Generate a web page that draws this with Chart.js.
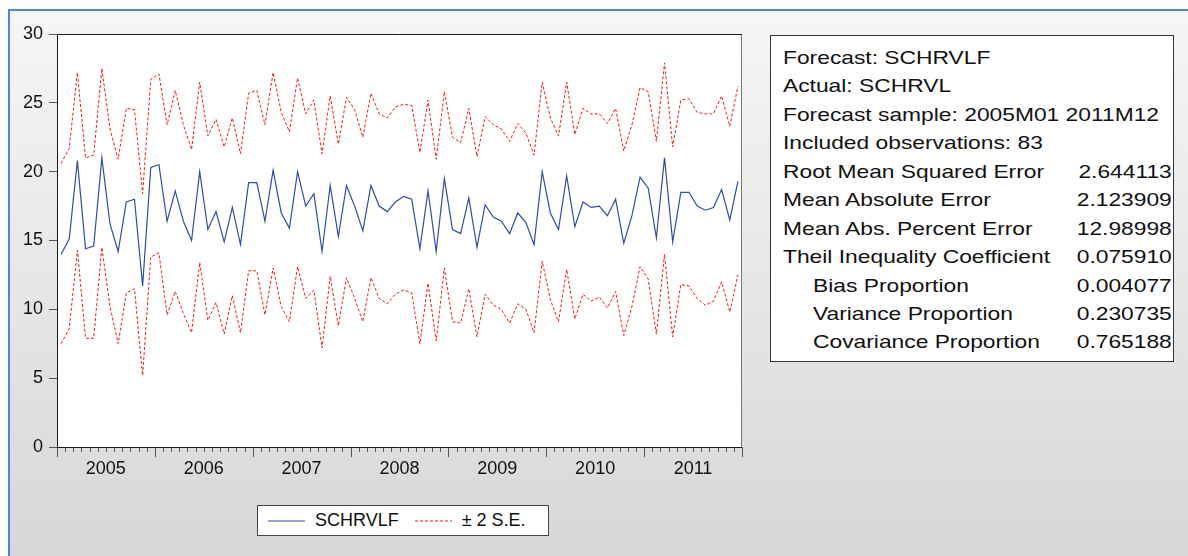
<!DOCTYPE html>
<html>
<head>
<meta charset="utf-8">
<script src="https://cdn.jsdelivr.net/npm/chart.js"></script>
<style>
  body { margin: 0; width: 1188px; height: 556px; overflow: hidden; background: #fff; font-family: "Liberation Sans", Arial, sans-serif; }
  #frame { position: absolute; left: 8px; top: 9px; right: 0; bottom: 0;
    border-left: 2px solid #4d87d4; border-top: 2px solid #4d87d4;
    background: linear-gradient(#f6f6f6, #d7d7d7); }
  #myChart { position: absolute; left: 0; top: 0; }
  #stats { position: absolute; left: 770px; top: 35px; width: 402px; height: 325px;
    border: 1px solid #333; background: #fff; overflow: hidden; }
  #statsInner { position: absolute; left: 12px; top: 8px; width: 324px;
    transform: scaleX(1.2); transform-origin: 0 0; font-size: 19px; color: #111; }
  #statsInner div { height: 28.45px; line-height: 28.45px; white-space: nowrap; display: flex; justify-content: space-between; }
  #statsInner .sub span:first-child { padding-left: 25px; }
  #legend { position: absolute; left: 257px; top: 505px; width: 280px; height: 29px;
    border: 1px solid #444; background: #fff; display: flex; align-items: center;
    font-size: 18px; color: #111; padding-left: 10px; box-sizing: content-box; }
  #legend svg { margin-right: 10px; }
  #legend span { margin-right: 16px; }
</style>
</head>
<body>
<div id="frame"></div>
<canvas id="myChart" width="1188" height="556"></canvas>
<div id="stats"><div id="statsInner"></div></div>
<div id="legend"></div>
<script>
    // data
    const years = [2005, 2006, 2007, 2008, 2009, 2010, 2011];
    const months = [];
    years.forEach(function(y) {
        for (let m = 1; m <= 12; m++) months.push(y + "M" + (m < 10 ? "0" + m : m));
    });

    const forecast = [
        14.0, 15.1, 20.8, 14.4, 14.6, 21.0, 16.2, 14.2, 17.8, 18.0, 11.7, 20.3,
        20.5, 16.4, 18.6, 16.4, 15.0, 20.0, 15.8, 17.1, 14.9, 17.4, 14.7, 19.2,
        19.2, 16.4, 20.1, 17.0, 15.9, 20.0, 17.5, 18.4, 14.2, 19.0, 15.3, 19.0,
        17.5, 15.7, 19.0, 17.5, 17.1, 17.8, 18.2, 18.0, 14.4, 18.6, 14.2, 19.5,
        15.8, 15.5, 18.1, 14.5, 17.6, 16.7, 16.4, 15.5, 17.0, 16.3, 14.7, 20.0,
        17.0, 15.8, 19.7, 16.0, 17.8, 17.4, 17.5, 16.8, 18.0, 14.8, 16.8, 19.6,
        18.8, 15.2, 21.0, 14.9, 18.5, 18.5, 17.5, 17.2, 17.4, 18.7, 16.5, 19.3
    ];
    const upperBand = [
        20.6, 21.7, 27.2, 21.0, 21.2, 27.5, 23.1, 20.9, 24.6, 24.5, 18.4, 26.7,
        27.1, 23.4, 25.9, 23.4, 21.6, 26.5, 22.6, 23.8, 21.8, 23.9, 21.3, 25.7,
        25.9, 23.4, 27.2, 24.3, 22.9, 26.8, 24.2, 25.2, 21.3, 25.5, 22.0, 25.4,
        24.5, 22.5, 25.7, 24.2, 23.9, 24.7, 24.9, 24.8, 21.4, 25.2, 20.9, 25.8,
        22.5, 22.1, 24.6, 21.1, 24.0, 23.4, 23.1, 22.2, 23.5, 22.8, 21.2, 26.5,
        23.9, 22.6, 26.5, 22.7, 24.6, 24.2, 24.2, 23.5, 24.6, 21.5, 23.4, 26.1,
        25.8, 22.2, 27.9, 21.8, 25.2, 25.3, 24.3, 24.2, 24.2, 25.5, 23.3, 26.2
    ];
    const lowerBand = [
        7.5, 8.6, 14.3, 7.9, 7.9, 14.5, 10.2, 7.5, 11.2, 11.5, 5.2, 13.8,
        14.1, 9.6, 11.3, 9.7, 8.3, 13.4, 9.2, 10.5, 8.2, 11.0, 8.3, 12.8,
        12.8, 9.6, 13.0, 10.2, 9.1, 13.1, 10.8, 11.4, 7.2, 12.4, 8.8, 12.3,
        10.8, 9.1, 12.3, 10.8, 10.4, 11.1, 11.4, 11.2, 7.5, 11.9, 7.7, 13.0,
        9.1, 9.0, 11.5, 8.0, 11.1, 10.3, 10.0, 9.0, 10.4, 10.0, 8.3, 13.5,
        10.7, 9.1, 12.9, 9.3, 11.1, 10.6, 10.9, 10.1, 11.3, 8.1, 10.2, 13.1,
        12.2, 8.2, 14.0, 8.0, 11.8, 11.7, 10.8, 10.3, 10.6, 12.0, 9.8, 12.5
    ];
    const yTicks = [0, 5, 10, 15, 20, 25, 30];

    const statHeader = ["Forecast: SCHRVLF", "Actual: SCHRVL",
        "Forecast sample: 2005M01 2011M12", "Included observations: 83"];
    const statLabels = ["Root Mean Squared Error", "Mean Absolute Error",
        "Mean Abs. Percent Error", "Theil Inequality Coefficient",
        "Bias Proportion", "Variance Proportion", "Covariance Proportion"];
    const statValues = ["2.644113", "2.123909", "12.98998", "0.075910",
        "0.004077", "0.230735", "0.765188"];

    const blue = '#2c4ea8';
    const red = '#f01c1c';

    // plot frame, white area and month ticks
    const frameTicks = {
        id: 'frameTicks',
        beforeDraw(chart) {
            const a = chart.chartArea;
            chart.ctx.save();
            chart.ctx.fillStyle = '#fff';
            chart.ctx.fillRect(a.left, a.top, a.right - a.left, a.bottom - a.top);
            chart.ctx.restore();
        },
        afterDraw(chart) {
            const ctx = chart.ctx, a = chart.chartArea, x = chart.scales.x;
            const n = months.length;
            ctx.save();
            ctx.lineWidth = 1;
            ctx.strokeStyle = '#555';
            for (let k = 0; k <= n; k++) {
                let px;
                if (k === 0) px = x.left;
                else if (k === n) px = x.right;
                else px = (x.getPixelForValue(k - 1) + x.getPixelForValue(k)) / 2;
                px = Math.round(px) + 0.5;
                const len = k % 12 === 0 ? 10 : 5;
                ctx.beginPath();
                ctx.moveTo(px, a.bottom);
                ctx.lineTo(px, a.bottom + len);
                ctx.stroke();
            }
            ctx.strokeStyle = '#777';
            ctx.beginPath();
            ctx.moveTo(Math.round(a.right) - 0.5, a.top);
            ctx.lineTo(Math.round(a.right) - 0.5, a.bottom);
            ctx.stroke();
            ctx.strokeStyle = '#1a1a1a';
            ctx.beginPath();
            ctx.moveTo(a.right, Math.round(a.top) + 0.5);
            ctx.lineTo(Math.round(a.left) + 0.5, Math.round(a.top) + 0.5);
            ctx.lineTo(Math.round(a.left) + 0.5, Math.round(a.bottom) + 0.5);
            ctx.lineTo(a.right, Math.round(a.bottom) + 0.5);
            ctx.stroke();
            ctx.restore();
        }
    };

    const data = {
        labels: months,
        datasets: [{
            label: 'SCHRVLF',
            data: forecast,
            borderColor: blue,
            borderWidth: 1.2,
            pointRadius: 0,
            tension: 0
        }, {
            label: '± 2 S.E.',
            data: upperBand,
            borderColor: red,
            borderWidth: 1,
            borderDash: [3, 2],
            pointRadius: 0,
            tension: 0
        }, {
            label: '± 2 S.E.',
            data: lowerBand,
            borderColor: red,
            borderWidth: 1,
            borderDash: [3, 2],
            pointRadius: 0,
            tension: 0
        }]
    };

    const config = {
        type: 'line',
        data,
        options: {
            responsive: false,
            animation: false,
            layout: { padding: { left: 0, top: 34, right: 446, bottom: 0 } },
            plugins: { legend: { display: false }, tooltip: { enabled: false } },
            scales: {
                x: {
                    offset: true,
                    afterFit: function(s) { s.height = 109; },
                    grid: { display: false, drawTicks: false },
                    border: { display: false },
                    ticks: {
                        autoSkip: false,
                        maxRotation: 0,
                        padding: 11,
                        labelOffset: 4,
                        color: '#111',
                        font: { family: 'Liberation Sans', size: 18 },
                        callback: function(val, idx) {
                            return idx % 12 === 5 ? String(years[Math.floor(idx / 12)]) : '';
                        }
                    }
                },
                y: {
                    min: yTicks[0],
                    max: yTicks[yTicks.length - 1],
                    afterFit: function(s) { s.width = 57; },
                    grid: { drawOnChartArea: false, drawTicks: true, tickLength: 8, color: '#555' },
                    border: { display: false },
                    ticks: {
                        stepSize: 5,
                        padding: 6,
                        color: '#111',
                        font: { family: 'Liberation Sans', size: 18 }
                    }
                }
            }
        },
        plugins: [frameTicks]
    };

    const myChart = new Chart(document.getElementById('myChart'), config);

    // statistics box
    const inner = document.getElementById('statsInner');
    statHeader.forEach(function(t) {
        const row = document.createElement('div');
        row.innerHTML = '<span>' + t + '</span>';
        inner.appendChild(row);
    });
    statLabels.forEach(function(t, i) {
        const row = document.createElement('div');
        if (i >= 4) row.className = 'sub';
        row.innerHTML = '<span>' + t + '</span><span>' + statValues[i] + '</span>';
        inner.appendChild(row);
    });

    // legend from datasets (one entry per label)
    const legend = document.getElementById('legend');
    const seen = {};
    myChart.data.datasets.forEach(function(ds) {
        if (seen[ds.label]) return;
        seen[ds.label] = true;
        const dash = ds.borderDash ? ' stroke-dasharray="3,2"' : '';
        legend.insertAdjacentHTML('beforeend',
            '<svg width="37" height="4"><line x1="0" y1="2" x2="37" y2="2" stroke="' +
            ds.borderColor + '" stroke-width="1"' + dash + '/></svg><span>' + ds.label + '</span>');
    });
</script>
</body>
</html>
